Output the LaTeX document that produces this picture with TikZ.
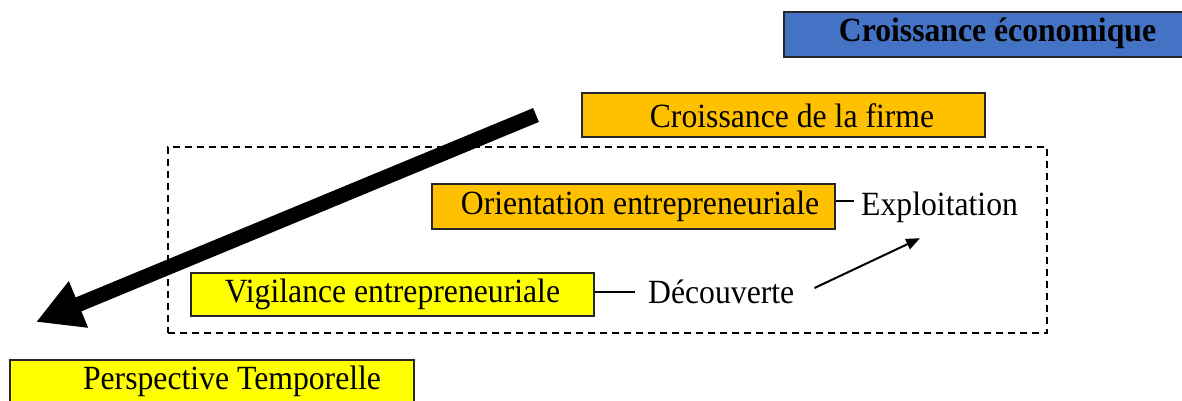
\documentclass[tikz,border=0pt]{standalone}
\usepackage{fontspec}
\setmainfont{Liberation Serif}
\usetikzlibrary{arrows.meta}
\definecolor{ecoblue}{HTML}{4472C4}
\definecolor{firmorange}{HTML}{FFC000}
\definecolor{vigyellow}{HTML}{FFFF00}
\newcommand{\talltext}[1]{\scalebox{1}[1.07]{#1}}
\begin{document}
\begin{tikzpicture}[x=1pt,y=-1pt,
  box/.style={draw=black!85, line width=1.8pt, inner sep=0pt, minimum width=403pt, minimum height=44pt, text height=22pt, text depth=7pt, font=\fontsize{31.7}{38}\selectfont},
  lbl/.style={inner xsep=7pt, inner ysep=0pt, text height=22pt, text depth=7pt, font=\fontsize{31.7}{38}\selectfont},
  link/.style={line width=1.3pt, draw=black},
  thinarrow/.style={line width=2pt, -{Triangle[length=14pt,width=11pt]}},
  bigarrow/.style={line width=15pt, line cap=butt, -{Triangle[length=46pt,width=47pt]}},
  groupbox/.style={draw, line width=1.5pt, dash pattern=on 7pt off 5pt, inner sep=0pt, minimum width=879pt, minimum height=186pt}
]
\useasboundingbox (0,0) rectangle (1182,401);
\node[groupbox] (grp) at (607.5,240) {};
\node[box, fill=ecoblue, minimum width=399pt, minimum height=45pt, font=\fontsize{31.7}{38}\selectfont\bfseries] (eco) at (983.5,34.5) {\hspace*{28pt}\talltext{Croissance économique}};
\node[box, fill=firmorange, text height=32pt, text depth=6pt] (firme) at (783.5,115) {\hspace*{17pt}\talltext{Croissance de la firme}};
\node[box, fill=firmorange, minimum height=45pt] (orient) at (633.5,206.5) {\hspace*{13pt}\talltext{Orientation entrepreneuriale}};
\node[box, fill=vigyellow, minimum height=43pt] (vigil) at (392.5,294.5) {\talltext{Vigilance entrepreneuriale}};
\node[box, fill=vigyellow, minimum width=404pt] (persp) at (212,382) {\hspace*{40pt}\talltext{Perspective Temporelle}};
\node[lbl, anchor=base west] (expl) at (854,215) {\talltext{Exploitation}};
\node[lbl, inner xsep=13pt, anchor=base west] (decouv) at (635,303) {\talltext{Découverte}};
\draw[link] ([yshift=5.5pt]orient.east) -- ([yshift=6.5pt]expl.west);
\draw[link] ([yshift=2.5pt]vigil.east) -- ([yshift=3.5pt]decouv.west);
\draw[thinarrow] ([xshift=7pt,yshift=7.5pt]decouv.east) -- ([xshift=-19.5pt,yshift=-16pt]expl.south);
\coordinate (bigstart) at (536,115);
\coordinate (bigend) at (36,322);
\draw[bigarrow] (bigstart) -- (bigend);
\end{tikzpicture}
\end{document}
